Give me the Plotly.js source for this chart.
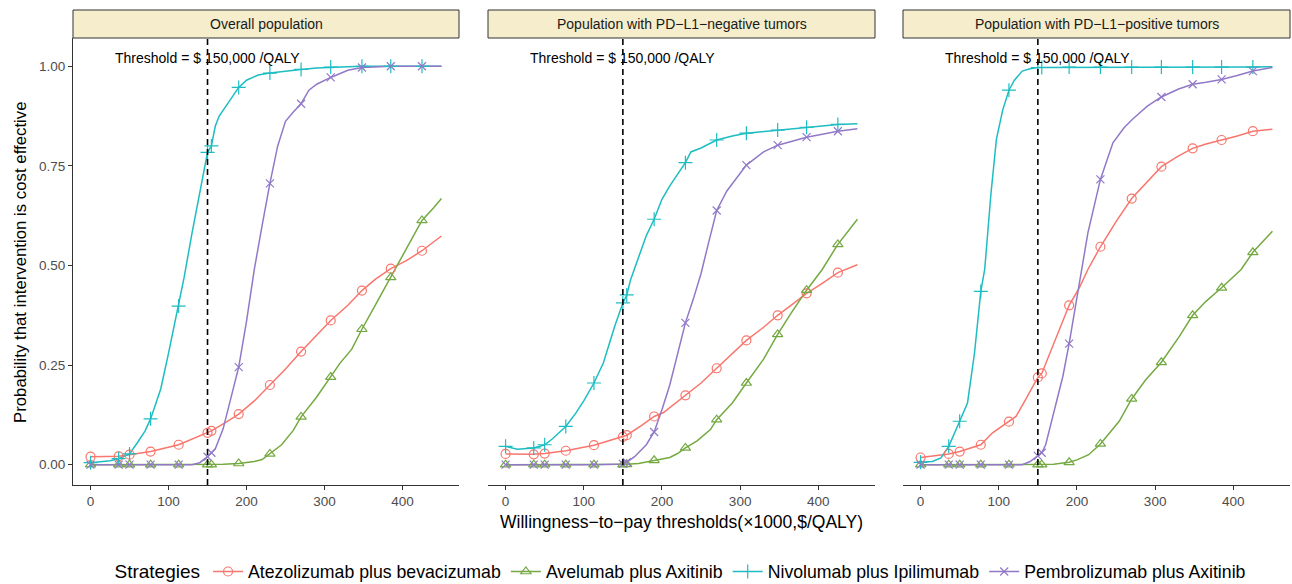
<!DOCTYPE html>
<html>
<head>
<meta charset="utf-8">
<script src="https://cdn.plot.ly/plotly-3.0.1.min.js"></script>
<style>
  html, body { margin: 0; padding: 0; background: #fff; }
  #chart { width: 1292px; height: 584px; }
</style>
</head>
<body>
<div id="chart"></div>
<script>
// ---------- Data ----------
const panels = ["Overall population", "Population with PD\u2212L1\u2212negative tumors", "Population with PD\u2212L1\u2212positive tumors"];
const strategies = ["Atezolizumab plus bevacizumab", "Avelumab plus Axitinib", "Nivolumab plus Ipilimumab", "Pembrolizumab plus Axitinib"];
const markerX = [0, 36, 50, 77, 113, 150, 155, 190, 230, 270, 308, 348, 385, 425];
const thresholdWTP = 150;
const xTicks = [0, 100, 200, 300, 400];
const yTicks = [0, 0.25, 0.5, 0.75, 1];

// Panel 1: Overall population
const atezo1X = [0,36,50,77,113,150,155,175,190,210,230,250,270,290,308,330,348,365,385,405,425,450];
const atezo1Y = [0.020,0.021,0.025,0.033,0.050,0.080,0.085,0.108,0.127,0.160,0.200,0.240,0.284,0.325,0.362,0.400,0.437,0.465,0.492,0.512,0.537,0.574];
const avel1X = [0,36,50,77,113,150,155,170,190,200,210,220,230,245,260,270,290,308,320,335,348,365,385,405,425,440,450];
const avel1Y = [0,0,0,0,0,0,0,0.001,0.003,0.005,0.008,0.013,0.027,0.05,0.086,0.12,0.17,0.22,0.255,0.29,0.34,0.40,0.47,0.54,0.613,0.645,0.668];
const nivo1X = [0,15,25,36,50,60,70,77,85,90,100,113,120,130,140,150,155,160,165,170,180,190,200,215,230,250,270,290,308,330,348,385,425,450];
const nivo1Y = [0.005,0.008,0.010,0.015,0.027,0.055,0.085,0.115,0.16,0.19,0.28,0.398,0.47,0.58,0.68,0.784,0.80,0.85,0.875,0.89,0.92,0.947,0.965,0.978,0.983,0.988,0.992,0.996,0.998,0.999,1,1,1,1];
const pembro1X = [0,36,50,77,113,130,140,150,155,160,170,180,190,200,210,220,230,240,250,260,270,280,290,308,330,348,385,425,450];
const pembro1Y = [0,0,0,0,0,0,0.005,0.02,0.03,0.04,0.09,0.17,0.245,0.36,0.49,0.60,0.706,0.80,0.862,0.885,0.906,0.94,0.955,0.972,0.99,0.997,1,1,1];

// Panel 2: PD-L1-negative
const atezo2X = [0,36,50,77,113,150,155,175,190,202,230,250,270,290,308,330,348,365,385,405,425,450];
const atezo2Y = [0.027,0.026,0.028,0.035,0.049,0.07,0.074,0.10,0.121,0.131,0.174,0.205,0.242,0.28,0.312,0.345,0.375,0.40,0.43,0.455,0.482,0.502];
const avel2X = [0,36,50,77,113,150,155,170,190,210,220,230,245,262,270,290,308,330,348,365,385,405,425,450];
const avel2Y = [0,0,0,0,0,0,0.001,0.003,0.011,0.018,0.028,0.042,0.06,0.088,0.113,0.155,0.205,0.265,0.327,0.38,0.438,0.49,0.553,0.616];
const nivo2X = [0,15,36,50,60,77,90,100,113,125,140,150,155,160,170,180,190,200,210,220,230,237,250,270,290,308,348,385,425,450];
const nivo2Y = [0.046,0.039,0.042,0.050,0.065,0.096,0.13,0.16,0.205,0.255,0.35,0.406,0.426,0.465,0.52,0.575,0.616,0.666,0.70,0.73,0.758,0.785,0.795,0.815,0.825,0.832,0.84,0.847,0.854,0.856];
const pembro2X = [0,36,50,77,113,150,155,165,180,190,200,210,220,230,240,250,260,270,283,308,330,348,385,425,450];
const pembro2Y = [0,0,0,0,0,0.002,0.006,0.02,0.05,0.082,0.138,0.2,0.275,0.356,0.415,0.48,0.56,0.638,0.687,0.752,0.785,0.802,0.822,0.837,0.843];

// Panel 3: PD-L1-positive
const atezo3X = [0,36,50,77,92,113,122,133,150,155,167,190,203,214,230,250,270,290,308,330,348,365,385,405,425,450];
const atezo3Y = [0.018,0.027,0.033,0.05,0.08,0.108,0.121,0.159,0.219,0.229,0.289,0.40,0.444,0.49,0.547,0.61,0.668,0.71,0.748,0.775,0.794,0.805,0.815,0.825,0.837,0.842];
const avel3X = [0,36,50,77,113,150,155,170,190,200,215,230,254,270,288,308,331,348,365,385,410,425,450];
const avel3Y = [0,0,0,0,0,0,0,0.001,0.006,0.012,0.025,0.052,0.109,0.165,0.213,0.257,0.322,0.375,0.41,0.444,0.49,0.533,0.586];
const nivo3X = [0,15,26,36,50,60,69,77,82,90,97,105,113,120,130,140,150,155,190,230,270,308,348,385,425,450];
const nivo3Y = [0.006,0.008,0.017,0.046,0.109,0.155,0.281,0.435,0.49,0.68,0.817,0.89,0.94,0.965,0.988,0.994,0.997,0.997,0.998,0.998,0.998,0.998,0.998,0.998,0.998,0.999];
const pembro3X = [0,36,50,77,113,130,140,150,155,160,169,182,190,203,214,230,246,260,271,290,308,330,348,365,385,405,425,450];
const pembro3Y = [0,0,0,0,0,0,0.008,0.022,0.03,0.05,0.121,0.222,0.304,0.456,0.582,0.716,0.808,0.845,0.867,0.90,0.923,0.943,0.955,0.96,0.967,0.977,0.988,0.997];

// ---------- Styling ----------
const colors = ["#F8766D", "#74A942", "#1DBDC2", "#9179C8"];
const symbols = ["circle-open", "triangle-up-open", "cross-thin-open", "x-thin-open"];
const msizes = [9, 9, 10, 8];
const FONT = "Liberation Sans, Arial, sans-serif";

const seriesByPanel = [
  [[atezo1X, atezo1Y], [avel1X, avel1Y], [nivo1X, nivo1Y], [pembro1X, pembro1Y]],
  [[atezo2X, atezo2Y], [avel2X, avel2Y], [nivo2X, nivo2Y], [pembro2X, pembro2Y]],
  [[atezo3X, atezo3Y], [avel3X, avel3Y], [nivo3X, nivo3Y], [pembro3X, pembro3Y]]
];

const xDomains = [[73/1292, 459/1292], [488/1292, 875/1292], [903/1292, 1290/1292]];
const yDomain = [1 - 485/584, 1 - 38/584];
const axX = ["x", "x2", "x3"], axY = ["y", "y2", "y3"];

const lineTraces = [], markerTraces = [];
seriesByPanel.forEach((series, p) => {
  series.forEach(([xs, ys], s) => {
    lineTraces.push({
      x: xs, y: ys, xaxis: axX[p], yaxis: axY[p], type: "scatter", mode: "lines",
      line: {color: colors[s], width: 1.5}, showlegend: false, hoverinfo: "skip"
    });
    const mx = [], my = [];
    xs.forEach((v, i) => { if (markerX.includes(v)) { mx.push(v); my.push(ys[i]); } });
    markerTraces.push({
      x: mx, y: my, xaxis: axX[p], yaxis: axY[p], type: "scatter", mode: "markers",
      marker: {symbol: symbols[s], size: msizes[s], color: colors[s], line: {color: colors[s], width: 1.2}},
      showlegend: false, hoverinfo: "skip"
    });
  });
});
const legendTraces = strategies.map((name, s) => ({
  x: [null], y: [null], type: "scatter", mode: "lines+markers", name: name,
  line: {color: colors[s], width: 1.5},
  marker: {symbol: symbols[s], size: msizes[s], color: colors[s], line: {color: colors[s], width: 1.2}},
  showlegend: true
}));

const layout = {
  width: 1292, height: 584,
  margin: {l: 0, r: 0, t: 0, b: 0, autoexpand: false},
  paper_bgcolor: "#ffffff", plot_bgcolor: "#ffffff",
  font: {family: FONT, color: "#000"},
  showlegend: true,
  legend: {
    orientation: "h", x: 682/1292, xanchor: "center", y: 1 - 572/584, yanchor: "middle",
    font: {size: 17.7, family: FONT, color: "#000"},
    title: {text: "Strategies", side: "left", font: {size: 19, family: FONT}},
    itemwidth: 30, tracegroupgap: 0, traceorder: "normal"
  },
  shapes: [], annotations: []
};

for (let p = 0; p < 3; p++) {
  const xa = p === 0 ? "xaxis" : "xaxis" + (p + 1);
  const ya = p === 0 ? "yaxis" : "yaxis" + (p + 1);
  layout[xa] = {
    domain: xDomains[p], anchor: axY[p], range: [-22.5, 472.5], automargin: false,
    tickvals: xTicks, ticktext: xTicks.map(String), ticks: "outside", ticklen: 4, tickwidth: 1, tickcolor: "#333",
    showline: true, linecolor: "#333", linewidth: 1.1, showgrid: false, zeroline: false,
    tickfont: {size: 13.5, color: "#4D4D4D", family: FONT}
  };
  layout[ya] = {
    domain: yDomain, anchor: axX[p], range: [-0.051, 1.071], automargin: false,
    tickvals: yTicks, ticktext: yTicks.map(v => v.toFixed(2)),
    ticks: p === 0 ? "outside" : "", ticklen: 4, tickwidth: 1, tickcolor: "#333",
    showticklabels: p === 0, showline: p === 0, linecolor: "#333", linewidth: 1.1,
    showgrid: false, zeroline: false,
    tickfont: {size: 13.5, color: "#4D4D4D", family: FONT}
  };
  // strip
  layout.shapes.push({
    type: "rect", xref: "paper", yref: "paper",
    x0: xDomains[p][0], x1: xDomains[p][1], y0: yDomain[1], y1: 1 - 10/584,
    fillcolor: "#F5EDCB", line: {color: "#333", width: 1}, layer: "above"
  });
  layout.annotations.push({
    xref: "paper", yref: "paper", x: (xDomains[p][0] + xDomains[p][1]) / 2, y: 1 - 24/584,
    text: panels[p], showarrow: false, xanchor: "center", yanchor: "middle",
    font: {size: 14, color: "#1A1A1A", family: FONT}
  });
  // threshold line
  layout.shapes.push({
    type: "line", xref: axX[p], yref: axY[p] + " domain",
    x0: thresholdWTP, x1: thresholdWTP, y0: 0, y1: 1,
    line: {color: "#000", width: 1.6, dash: "6px,4px"}, layer: "above"
  });
  layout.annotations.push({
    xref: axX[p], yref: axY[p], x: thresholdWTP, y: 1.02,
    text: "Threshold = $ " + (thresholdWTP * 1000).toLocaleString("en-US") + " /QALY",
    showarrow: false, xanchor: "center", yanchor: "middle",
    font: {size: 14, color: "#000", family: FONT}
  });
}

layout.annotations.push({
  xref: "paper", yref: "paper", x: 681.5/1292, y: 1 - 522/584,
  text: "Willingness\u2212to\u2212pay thresholds(\u00d71000,$/QALY)",
  showarrow: false, xanchor: "center", yanchor: "middle",
  font: {size: 17.5, color: "#000", family: FONT}
});
layout.annotations.push({
  xref: "paper", yref: "paper", x: 20/1292, y: 1 - 262/584,
  text: "Probability that intervention is cost effective", textangle: -90,
  showarrow: false, xanchor: "center", yanchor: "middle",
  font: {size: 16.8, color: "#000", family: FONT}
});

Plotly.newPlot("chart", lineTraces.concat(markerTraces, legendTraces), layout, {displayModeBar: false, staticPlot: true});
</script>
</body>
</html>
